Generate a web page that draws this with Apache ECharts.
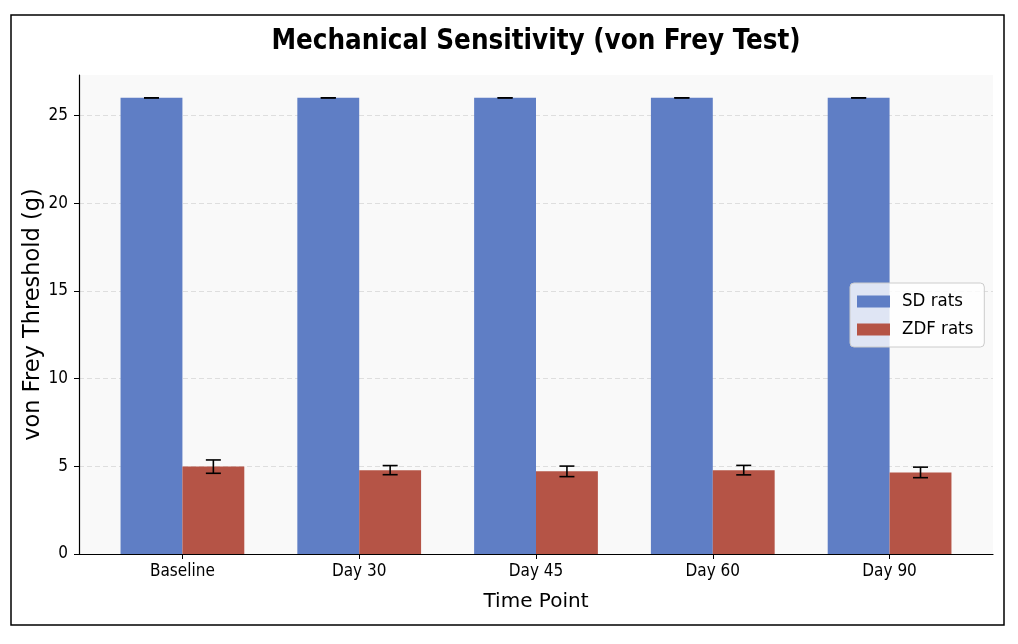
<!DOCTYPE html>
<html>
<head>
<meta charset="utf-8">
<script src="https://cdn.jsdelivr.net/npm/echarts@6/dist/echarts.min.js"></script>
<style>
  html, body { margin: 0; padding: 0; background: #fff; }
  #chart { width: 1018px; height: 644px; }
</style>
</head>
<body>
<div id="chart"></div>
<script>
const categories = ['Baseline', 'Day 30', 'Day 45', 'Day 60', 'Day 90'];
const sdMean = [26, 26, 26, 26, 26];
const sdErr = [0, 0, 0, 0, 0];
const zdfMean = [4.98, 4.78, 4.71, 4.78, 4.65];
const zdfErr = [0.38, 0.26, 0.3, 0.27, 0.3];
const yTicks = [0, 5, 10, 15, 20, 25];

const barWidth = 0.35;
const font = 'DejaVu Sans Condensed, DejaVu Sans, sans-serif';

// bar + error bar drawn together, offset left (-1) or right (+1) of the tick
function makeRender(side, color) {
  return function (params, api) {
    const i = api.value(0);
    const v = api.value(1);
    const e = api.value(2);
    const x0 = side < 0 ? i - barWidth : i;
    const x1 = side < 0 ? i : i + barWidth;
    const p0 = api.coord([x0, v]);
    const p1 = api.coord([x1, 0]);
    const cx = api.coord([(x0 + x1) / 2, v])[0];
    const yHi = api.coord([0, v + e])[1];
    const yLo = api.coord([0, v - e])[1];
    const lineStyle = { stroke: '#000', lineWidth: 1.6 };
    return {
      type: 'group',
      children: [
        { type: 'rect', shape: { x: p0[0], y: p0[1], width: p1[0] - p0[0], height: p1[1] - p0[1] },
          style: { fill: color } },
        { type: 'line', shape: { x1: cx, y1: yHi, x2: cx, y2: yLo }, style: lineStyle },
        { type: 'line', shape: { x1: cx - 7.5, y1: yHi, x2: cx + 7.5, y2: yHi }, style: lineStyle },
        { type: 'line', shape: { x1: cx - 7.5, y1: yLo, x2: cx + 7.5, y2: yLo }, style: lineStyle }
      ]
    };
  };
}

const chart = echarts.init(document.getElementById('chart'));
chart.setOption({
  animation: false,
  backgroundColor: '#fff',
  graphic: [
    { type: 'rect', shape: { x: 11, y: 15, width: 993, height: 610 },
      style: { fill: 'none', stroke: '#000', lineWidth: 1.5 }, z: 100 },
    { type: 'text', x: 536, y: 42,
      style: { text: 'Mechanical Sensitivity (von Frey Test)', fontFamily: font, fontWeight: 'bold',
               fontSize: 27.5, fill: '#000', textAlign: 'center', textVerticalAlign: 'middle' } }
  ],
  grid: { left: 79, right: 25, top: 75, bottom: 90, show: true, backgroundColor: '#f9f9f9', borderWidth: 0 },
  legend: {
    left: 850, top: 283, orient: 'vertical',
    itemWidth: 33, itemHeight: 12, itemGap: 9,
    padding: [9, 11, 8, 7],
    backgroundColor: 'rgba(255,255,255,0.8)', borderColor: '#ccc', borderWidth: 1, borderRadius: 4,
    textStyle: { fontFamily: font, fontSize: 18.5, color: '#000', padding: [0, 0, 0, 7] },
    data: [{ name: 'SD rats', icon: 'rect' }, { name: 'ZDF rats', icon: 'rect' }]
  },
  xAxis: {
    type: 'value', min: -0.585, max: 4.585,
    name: 'Time Point', nameLocation: 'middle', nameGap: 38, nameMoveOverlap: false,
    nameTextStyle: { fontFamily: 'DejaVu Sans, sans-serif', fontSize: 20, color: '#000' },
    axisLine: { onZero: false, lineStyle: { color: '#000', width: 1.2 } },
    axisTick: { show: true, length: 5, lineStyle: { color: '#000' }, customValues: [0, 1, 2, 3, 4] },
    axisLabel: { customValues: [0, 1, 2, 3, 4], formatter: v => categories[Math.round(v)],
                 fontFamily: font, fontSize: 17, color: '#000', margin: 9 },
    splitLine: { show: false }
  },
  yAxis: {
    type: 'value', min: 0, max: 27.3,
    name: 'von Frey Threshold (g)', nameLocation: 'middle', nameGap: 34, nameRotate: 90, nameMoveOverlap: false,
    nameTextStyle: { fontFamily: 'DejaVu Sans, sans-serif', fontSize: 22.5, color: '#000' },
    axisLine: { show: true, onZero: false, lineStyle: { color: '#000', width: 1.2 } },
    axisTick: { show: true, length: 5, lineStyle: { color: '#000' }, customValues: yTicks },
    axisLabel: { customValues: yTicks, fontFamily: font, fontSize: 17, color: '#000', margin: 11 },
    splitLine: { show: true, lineStyle: { color: '#dedede', type: [5, 3], width: 1 } }
  },
  series: [
    { name: 'SD rats', type: 'custom', itemStyle: { color: '#5f7ec5' },
      renderItem: makeRender(-1, '#5f7ec5'),
      data: categories.map((c, i) => [i, sdMean[i], sdErr[i]]) },
    { name: 'ZDF rats', type: 'custom', itemStyle: { color: '#b55446' },
      renderItem: makeRender(1, '#b55446'),
      data: categories.map((c, i) => [i, zdfMean[i], zdfErr[i]]) }
  ]
});
</script>
</body>
</html>
